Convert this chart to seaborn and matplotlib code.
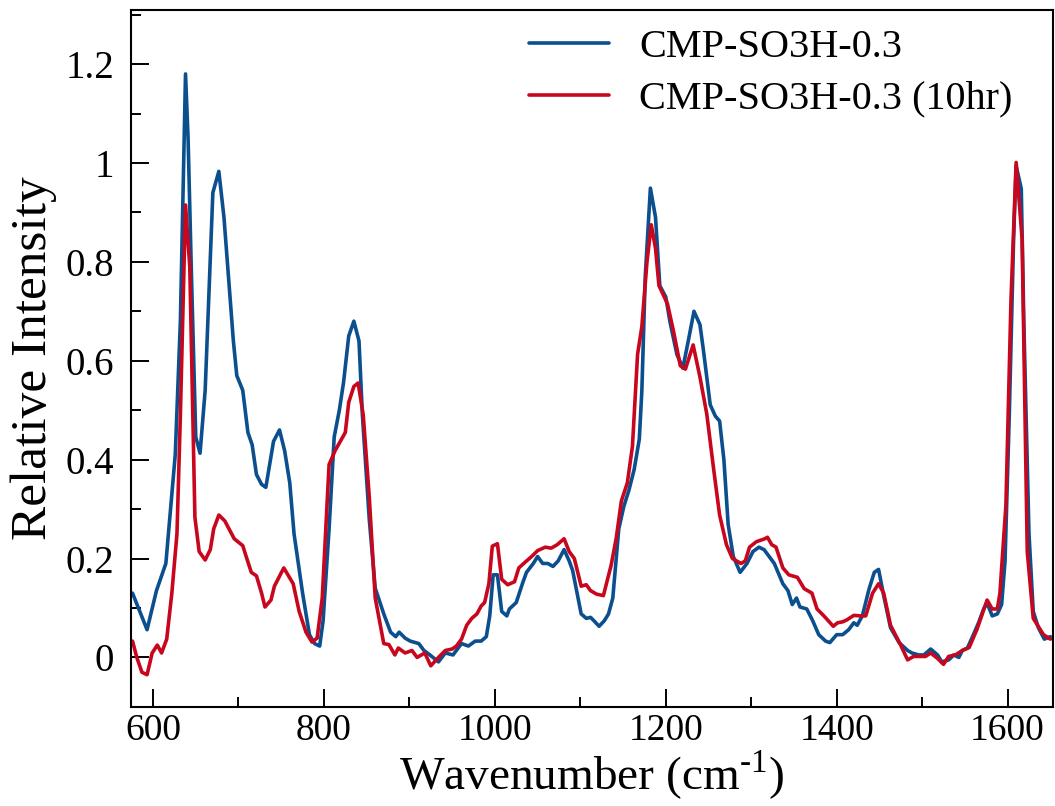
import numpy as np
import pandas as pd
import matplotlib
matplotlib.use("Agg")
import matplotlib.pyplot as plt
import seaborn as sns
from matplotlib.ticker import MultipleLocator, FuncFormatter

# ── data ─────────────────────────────────────────────────────────────────────

wn_fresh = [576, 593, 604, 615, 626, 632, 638, 641, 645, 650, 655, 661, 670, 677, 683,
            694, 698, 705, 711, 716, 721, 727, 732, 741, 748, 754, 760, 765, 775, 783,
            789, 795, 799, 806, 812, 818, 823, 829, 835, 841, 845, 853, 860, 870, 878,
            884, 888, 895, 901, 911, 917, 924, 934, 942, 951, 961, 969, 977, 984, 990,
            994, 998, 1003, 1008, 1014, 1017, 1025, 1033, 1037, 1045, 1050, 1056, 1062,
            1068, 1074, 1081, 1087, 1091, 1101, 1107, 1112, 1116, 1122, 1128, 1133, 1138,
            1145, 1151, 1157, 1163, 1169, 1172, 1176, 1182, 1188, 1193, 1200, 1205, 1213,
            1220, 1227, 1233, 1240, 1244, 1252, 1258, 1263, 1268, 1273, 1279, 1287, 1295,
            1302, 1309, 1315, 1327, 1337, 1343, 1348, 1353, 1357, 1365, 1372, 1379, 1387,
            1392, 1400, 1407, 1414, 1420, 1424, 1430, 1438, 1444, 1449, 1455, 1463, 1473,
            1483, 1488, 1496, 1502, 1510, 1518, 1523, 1531, 1537, 1543, 1547, 1553, 1560,
            1566, 1572, 1576, 1582, 1588, 1593, 1597, 1602, 1607, 1610, 1616, 1619, 1625,
            1630, 1636, 1643, 1650]
int_fresh = [0.13, 0.056, 0.135, 0.19, 0.41, 0.68, 1.18, 1.05, 0.77, 0.446, 0.413, 0.54,
             0.94, 0.983, 0.89, 0.64, 0.57, 0.54, 0.455, 0.43, 0.37, 0.35, 0.344, 0.437,
             0.46, 0.418, 0.353, 0.25, 0.13, 0.046, 0.028, 0.023, 0.074, 0.26, 0.446, 0.50,
             0.557, 0.65, 0.68, 0.64, 0.49, 0.28, 0.14, 0.088, 0.051, 0.042, 0.051, 0.039,
             0.033, 0.028, 0.014, 0.005, -0.009, 0.009, 0.005, 0.028, 0.023, 0.033, 0.033,
             0.042, 0.084, 0.167, 0.167, 0.093, 0.084, 0.098, 0.111, 0.153, 0.172, 0.19,
             0.204, 0.19, 0.19, 0.184, 0.195, 0.218, 0.195, 0.176, 0.088, 0.079, 0.081,
             0.074, 0.063, 0.074, 0.088, 0.12, 0.26, 0.306, 0.339, 0.38, 0.441, 0.539,
             0.771, 0.949, 0.89, 0.752, 0.729, 0.678, 0.613, 0.585, 0.646, 0.70, 0.673,
             0.622, 0.511, 0.488, 0.478, 0.40, 0.269, 0.204, 0.172, 0.19, 0.214, 0.223,
             0.218, 0.19, 0.149, 0.135, 0.107, 0.12, 0.102, 0.098, 0.074, 0.046, 0.033,
             0.03, 0.046, 0.046, 0.056, 0.07, 0.065, 0.084, 0.139, 0.172, 0.178, 0.125,
             0.06, 0.03, 0.014, 0.009, 0.005, 0.005, 0.017, 0.005, -0.009, -0.005, 0.005,
             0.0, 0.014, 0.019, 0.046, 0.07, 0.098, 0.11, 0.084, 0.088, 0.107, 0.195,
             0.492, 0.845, 0.994, 0.948, 0.678, 0.251, 0.093, 0.06, 0.037, 0.042]

wn_10hr = [576, 581, 587, 593, 599, 605, 610, 616, 622, 628, 632, 638, 643, 649, 654, 661,
           667, 671, 677, 684, 695, 705, 709, 715, 721, 727, 731, 738, 742, 753, 764, 771,
           779, 786, 792, 798, 806, 813, 825, 829, 835, 840, 846, 853, 860, 870, 876, 883,
           887, 895, 903, 909, 918, 925, 934, 942, 950, 955, 961, 967, 973, 979, 984, 988,
           993, 997, 1003, 1008, 1015, 1023, 1028, 1037, 1043, 1050, 1059, 1066, 1073,
           1081, 1087, 1093, 1101, 1107, 1112, 1119, 1127, 1136, 1142, 1148, 1155, 1161,
           1167, 1172, 1178, 1183, 1188, 1192, 1202, 1209, 1217, 1223, 1232, 1240, 1248,
           1256, 1263, 1271, 1278, 1288, 1293, 1298, 1306, 1316, 1319, 1324, 1329, 1337,
           1344, 1354, 1362, 1371, 1377, 1385, 1396, 1401, 1407, 1412, 1420, 1428, 1434,
           1442, 1449, 1455, 1463, 1474, 1483, 1490, 1504, 1510, 1518, 1525, 1531, 1539,
           1547, 1555, 1564, 1576, 1582, 1588, 1591, 1598, 1604, 1610, 1617, 1623, 1630,
           1642, 1650]
int_10hr = [0.033, 0.0, -0.03, -0.035, 0.009, 0.025, 0.009, 0.037, 0.13, 0.25, 0.49, 0.915,
            0.79, 0.283, 0.214, 0.197, 0.218, 0.26, 0.288, 0.276, 0.24, 0.226, 0.204, 0.172,
            0.165, 0.13, 0.102, 0.116, 0.144, 0.181, 0.149, 0.093, 0.051, 0.031, 0.039, 0.12,
            0.39, 0.418, 0.455, 0.516, 0.548, 0.555, 0.49, 0.325, 0.12, 0.028, 0.026, 0.005,
            0.019, 0.009, 0.014, 0.0, 0.009, -0.017, 0.0, 0.014, 0.017, 0.023, 0.037, 0.065,
            0.079, 0.088, 0.104, 0.111, 0.149, 0.225, 0.23, 0.158, 0.147, 0.153, 0.181,
            0.195, 0.204, 0.216, 0.223, 0.221, 0.228, 0.24, 0.214, 0.20, 0.144, 0.147, 0.135,
            0.128, 0.125, 0.186, 0.241, 0.316, 0.353, 0.427, 0.613, 0.669, 0.80, 0.875,
            0.827, 0.752, 0.715, 0.66, 0.59, 0.583, 0.632, 0.567, 0.492, 0.381, 0.288, 0.228,
            0.20, 0.19, 0.195, 0.223, 0.234, 0.24, 0.243, 0.228, 0.223, 0.181, 0.167, 0.162,
            0.139, 0.13, 0.098, 0.084, 0.063, 0.07, 0.072, 0.076, 0.085, 0.084, 0.084, 0.13,
            0.149, 0.13, 0.065, 0.028, -0.005, 0.002, 0.002, 0.009, -0.002, -0.014, 0.002,
            0.005, 0.014, 0.02, 0.056, 0.116, 0.098, 0.098, 0.13, 0.307, 0.725, 1.001, 0.845,
            0.214, 0.079, 0.046, 0.037]

labels = ["CMP-SO3H-0.3", "CMP-SO3H-0.3 (10hr)"]
colors = {"CMP-SO3H-0.3": "#0b4f8e", "CMP-SO3H-0.3 (10hr)": "#c8071e"}

df = pd.concat([
    pd.DataFrame({"wn": wn_fresh, "intensity": int_fresh, "sample": labels[0]}),
    pd.DataFrame({"wn": wn_10hr, "intensity": int_10hr, "sample": labels[1]}),
], ignore_index=True)

# ── plot ─────────────────────────────────────────────────────────────────────

sns.set_style("ticks")
plt.rcParams["font.family"] = ["Liberation Serif", "DejaVu Serif"]
plt.rcParams["mathtext.fontset"] = "custom"
plt.rcParams["mathtext.rm"] = "Liberation Serif"
for key in ["text.color", "axes.labelcolor", "xtick.color", "ytick.color", "axes.edgecolor"]:
    plt.rcParams[key] = "black"

fig = plt.figure(figsize=(10.55, 8.06), dpi=100)
ax = fig.add_axes([0.124, 0.123, 0.874, 0.865])

sns.lineplot(data=df, x="wn", y="intensity", hue="sample", palette=colors,
             linewidth=2.6, sort=False, estimator=None, ax=ax)

ax.set_xlim(574, 1653)
ax.set_ylim(-0.1, 1.31)

ax.xaxis.set_major_locator(MultipleLocator(200))
ax.xaxis.set_minor_locator(MultipleLocator(100))
ax.yaxis.set_major_locator(MultipleLocator(0.2))
ax.yaxis.set_minor_locator(MultipleLocator(0.1))
ax.yaxis.set_major_formatter(FuncFormatter(lambda v, p: f"{v:g}"))

ax.tick_params(which="major", direction="in", length=13, width=1.4,
               top=False, right=False)
ax.tick_params(which="minor", direction="in", length=7, width=1.4,
               top=False, right=False)
ax.tick_params(axis="y", labelsize=28, pad=12)
ax.tick_params(axis="x", labelsize=27, pad=5)

for sp in ax.spines.values():
    sp.set_linewidth(1.5)

ax.set_xlabel(r"Wavenumber (cm$^{\mathrm{\text{-1}}}$)", fontsize=34, labelpad=0)
ax.set_ylabel("Relative Intensity", fontsize=37, labelpad=6)

ax.legend(loc="upper right", bbox_to_anchor=(0.987, 1.013), frameon=False, fontsize=29,
          handlelength=2.0, handletextpad=0.75, labelspacing=0.36, borderaxespad=0.3)

fig.savefig("out.png", dpi=100)
